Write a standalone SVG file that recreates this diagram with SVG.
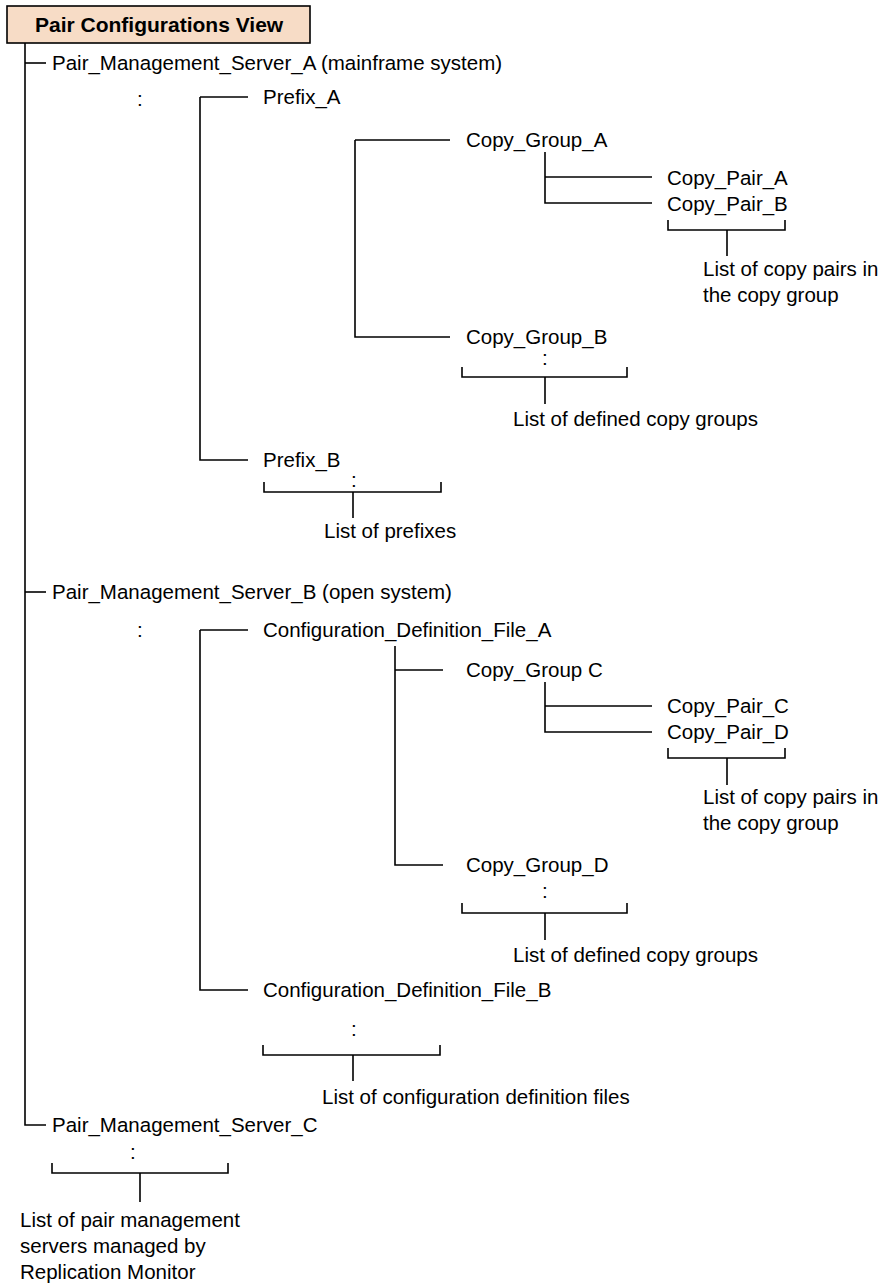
<svg xmlns="http://www.w3.org/2000/svg" width="884" height="1283" viewBox="0 0 884 1283">
  <style>
    text { font-family: "Liberation Sans", Arial, sans-serif; font-size: 20.5px; fill: #000; }
    .title { font-weight: bold; font-size: 21px; }
    .ln { stroke: #000; stroke-width: 1.6; fill: none; }
  </style>
  <rect width="884" height="1283" fill="#fff"/>

  <!-- title box -->
  <g id="title">
    <rect x="7" y="6" width="303" height="37" fill="#f7dcc6" stroke="#000" stroke-width="1.6"/>
    <text class="title" x="35" y="32">Pair Configurations View</text>
  </g>

  <!-- tree connectors and list brackets -->
  <g id="connectors" class="ln">
    <!-- root trunk -->
    <path d="M25 43 V1125 H46"/>
    <path d="M25 63 H46"/>
    <path d="M25 592 H46"/>

    <!-- server A subtree -->
    <path d="M200 97 V460 H248"/>
    <path d="M200 97 H248"/>
    <path d="M355 140 V337 H450"/>
    <path d="M355 140 H450"/>
    <path d="M545 152 V203 H652"/>
    <path d="M545 177 H652"/>
    <path d="M668 220 V230 H785 V220 M727 230 V256"/>
    <path d="M462 367 V377 H627 V367 M545 377 V404"/>
    <path d="M264 482 V492 H441 V482 M353 492 V518"/>

    <!-- server B subtree -->
    <path d="M200 630 V990 H248"/>
    <path d="M200 630 H248"/>
    <path d="M395 646 V865 H443"/>
    <path d="M395 670 H443"/>
    <path d="M545 682 V732 H652"/>
    <path d="M545 706 H652"/>
    <path d="M668 748 V758 H785 V748 M727 758 V785"/>
    <path d="M462 903 V913 H627 V903 M545 913 V940"/>
    <path d="M263 1045 V1055 H440 V1045 M353 1055 V1081"/>

    <!-- server C bracket -->
    <path d="M52 1163 V1173 H228 V1163 M140 1173 V1202"/>
  </g>

  <g id="server-a">
    <text x="52" y="70">Pair_Management_Server_A (mainframe system)</text>
    <text x="137" y="106">:</text>
  </g>
  <g id="prefix-a"><text x="263" y="104">Prefix_A</text></g>
  <g id="copy-group-a"><text x="466" y="147">Copy_Group_A</text></g>
  <g id="copy-pair-a"><text x="667" y="185">Copy_Pair_A</text></g>
  <g id="copy-pair-b"><text x="667" y="211">Copy_Pair_B</text></g>
  <g id="note-pairs-1">
    <text x="703" y="276">List of copy pairs in</text>
    <text x="703" y="302">the copy group</text>
  </g>
  <g id="copy-group-b">
    <text x="466" y="344">Copy_Group_B</text>
    <text x="542" y="365">:</text>
  </g>
  <g id="note-groups-1"><text x="513" y="426">List of defined copy groups</text></g>
  <g id="prefix-b">
    <text x="263" y="467">Prefix_B</text>
    <text x="351" y="487">:</text>
  </g>
  <g id="note-prefixes"><text x="324" y="538">List of prefixes</text></g>

  <g id="server-b">
    <text x="52" y="599">Pair_Management_Server_B (open system)</text>
    <text x="137" y="637">:</text>
  </g>
  <g id="config-file-a"><text x="263" y="637">Configuration_Definition_File_A</text></g>
  <g id="copy-group-c"><text x="466" y="677">Copy_Group C</text></g>
  <g id="copy-pair-c"><text x="667" y="713">Copy_Pair_C</text></g>
  <g id="copy-pair-d"><text x="667" y="739">Copy_Pair_D</text></g>
  <g id="note-pairs-2">
    <text x="703" y="804">List of copy pairs in</text>
    <text x="703" y="830">the copy group</text>
  </g>
  <g id="copy-group-d">
    <text x="466" y="872">Copy_Group_D</text>
    <text x="542" y="898">:</text>
  </g>
  <g id="note-groups-2"><text x="513" y="962">List of defined copy groups</text></g>
  <g id="config-file-b">
    <text x="263" y="997">Configuration_Definition_File_B</text>
    <text x="351" y="1036">:</text>
  </g>
  <g id="note-config-files"><text x="322" y="1104">List of configuration definition files</text></g>

  <g id="server-c">
    <text x="52" y="1132">Pair_Management_Server_C</text>
    <text x="130" y="1159">:</text>
  </g>
  <g id="note-servers">
    <text x="20" y="1227">List of pair management</text>
    <text x="20" y="1253">servers managed by</text>
    <text x="20" y="1279">Replication Monitor</text>
  </g>
</svg>
